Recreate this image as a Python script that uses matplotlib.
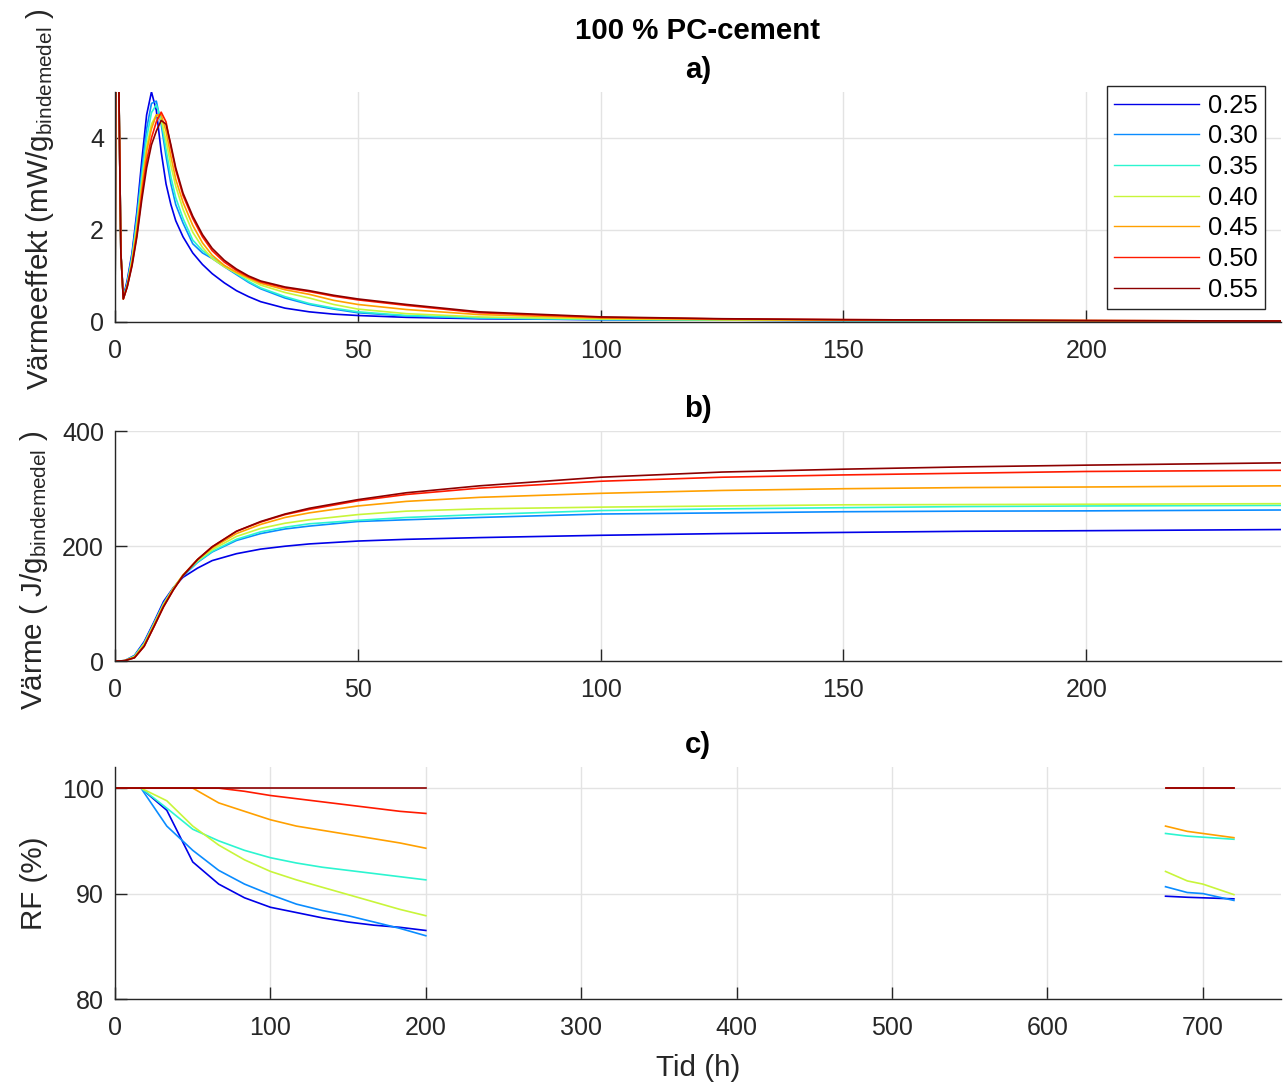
#############################################################################################
# 100 % PC-cement : heat flow, cumulative heat and RH for different w/b ratios
#############################################################################################

import numpy as np
import matplotlib.pyplot as plt

#############################################################################################
# DATA
#############################################################################################

wbLabels = ['0.25', '0.30', '0.35', '0.40', '0.45', '0.50', '0.55']
wbColors = ['#0000e8', '#0a8cff', '#2cf5d0', '#c8f53a', '#ffa000', '#ff1a00', '#8c0000']

# a) heat flow (mW/g binder) vs time (h)
timeA = [0, 0.3, 0.8, 1.2, 1.7, 2.5, 3.5, 4.5, 5.5, 6.5, 7.5, 8.5, 9.5, 10.5, 11.5, 12.5,
         14, 16, 18, 20, 22.5, 25, 27.5, 30, 35, 40, 45, 50, 60, 75, 100, 125, 150, 200, 240]
flow025 = [0, 12, 5, 1.5, 0.55, 0.9, 1.5, 2.4, 3.5, 4.5, 5.0, 4.6, 3.7, 3.0, 2.55, 2.2,
           1.85, 1.5, 1.25, 1.05, 0.85, 0.68, 0.55, 0.44, 0.3, 0.22, 0.17, 0.14, 0.1, 0.07, 0.05, 0.04, 0.03, 0.02, 0.015]
flow030 = [0, 12, 5, 1.5, 0.53, 0.85, 1.45, 2.3, 3.3, 4.2, 4.75, 4.8, 4.3, 3.6, 3.0, 2.55,
           2.15, 1.7, 1.5, 1.38, 1.2, 1.03, 0.86, 0.72, 0.52, 0.38, 0.28, 0.2, 0.13, 0.08, 0.05, 0.04, 0.03, 0.02, 0.015]
flow035 = [0, 12, 5, 1.5, 0.52, 0.82, 1.4, 2.2, 3.15, 4.0, 4.55, 4.72, 4.4, 3.75, 3.15, 2.7,
           2.25, 1.78, 1.55, 1.4, 1.22, 1.05, 0.88, 0.74, 0.55, 0.4, 0.3, 0.22, 0.14, 0.09, 0.055, 0.04, 0.03, 0.02, 0.015]
flow040 = [0, 12, 5, 1.5, 0.5, 0.8, 1.35, 2.1, 3.0, 3.8, 4.3, 4.5, 4.4, 3.95, 3.4, 2.95,
           2.45, 1.95, 1.62, 1.38, 1.2, 1.06, 0.93, 0.8, 0.64, 0.52, 0.38, 0.28, 0.18, 0.11, 0.065, 0.045, 0.035, 0.025, 0.02]
flow045 = [0, 12, 5, 1.5, 0.5, 0.78, 1.3, 2.0, 2.9, 3.7, 4.2, 4.5, 4.5, 4.15, 3.6, 3.1,
           2.6, 2.1, 1.72, 1.45, 1.23, 1.08, 0.96, 0.84, 0.7, 0.6, 0.47, 0.38, 0.27, 0.16, 0.085, 0.055, 0.04, 0.03, 0.02]
flow050 = [0, 12, 5, 1.5, 0.5, 0.76, 1.25, 1.9, 2.75, 3.5, 4.0, 4.35, 4.56, 4.35, 3.8, 3.3,
           2.75, 2.25, 1.85, 1.55, 1.3, 1.12, 0.98, 0.87, 0.74, 0.66, 0.56, 0.48, 0.36, 0.2, 0.1, 0.065, 0.05, 0.03, 0.02]
flow055 = [0, 12, 5, 1.5, 0.5, 0.76, 1.22, 1.85, 2.65, 3.35, 3.85, 4.15, 4.38, 4.3, 3.85, 3.35,
           2.8, 2.3, 1.9, 1.6, 1.34, 1.15, 1.0, 0.89, 0.76, 0.68, 0.58, 0.5, 0.38, 0.22, 0.11, 0.07, 0.05, 0.03, 0.02]

# b) cumulative heat (J/g binder) vs time (h)
timeB = [0, 2, 4, 6, 8, 10, 12, 14, 17, 20, 25, 30, 35, 40, 50, 60, 75, 100, 125, 150, 175, 200, 240]
heat025 = [0, 1, 10, 34, 68, 104, 128, 146, 162, 175, 187, 195, 200, 204, 209, 212, 215, 219, 222, 224, 226, 227, 229]
heat030 = [0, 1, 9, 32, 66, 101, 127, 148, 172, 190, 210, 222, 230, 235, 243, 246, 250, 256, 258, 260, 261, 261.5, 263]
heat035 = [0, 1, 9, 31, 65, 100, 127, 149, 173, 191, 212, 225, 233, 239, 245, 250, 255, 262, 265, 267, 269, 270, 271]
heat040 = [0, 1, 8, 30, 64, 99, 127, 150, 175, 194, 217, 231, 240, 246, 255, 261, 265, 268, 270, 272, 272.5, 273, 274]
heat045 = [0, 1, 7, 28, 62, 97, 126, 150, 177, 197, 222, 238, 250, 258, 270, 278, 285, 292, 297, 300, 302, 303, 305]
heat050 = [0, 1, 6, 26, 60, 95, 124, 149, 177, 199, 226, 242, 255, 264, 279, 290, 301, 313, 320, 324, 327, 330, 332]
heat055 = [0, 1, 6, 26, 60, 95, 124, 149, 177, 199, 226, 243, 256, 266, 281, 293, 305, 320, 329, 334, 338, 341, 345]

# c) relative humidity (%) vs time (h), two measuring periods
timeC1 = [0, 16.7, 33.3, 50, 66.7, 83.3, 100, 116.7, 133.3, 150, 166.7, 183.3, 200]
rf1_025 = [100, 100, 97.9, 93.0, 90.9, 89.6, 88.7, 88.2, 87.7, 87.3, 87.0, 86.8, 86.5]
rf1_030 = [100, 100, 96.4, 94.1, 92.2, 90.9, 89.9, 89.0, 88.4, 87.9, 87.3, 86.7, 86.0]
rf1_035 = [100, 100, 98.1, 96.1, 95.0, 94.1, 93.4, 92.9, 92.5, 92.2, 91.9, 91.6, 91.3]
rf1_040 = [100, 100, 98.8, 96.4, 94.6, 93.2, 92.1, 91.3, 90.6, 89.9, 89.2, 88.5, 87.9]
rf1_045 = [100, 100, 100, 100, 98.6, 97.8, 97.0, 96.4, 96.0, 95.6, 95.2, 94.8, 94.3]
rf1_050 = [100, 100, 100, 100, 100, 99.7, 99.3, 99.0, 98.7, 98.4, 98.1, 97.8, 97.6]
rf1_055 = [100] * 13

timeC2 = [676, 690, 700, 720]
rf2_025 = [89.75, 89.65, 89.6, 89.5]
rf2_030 = [90.65, 90.1, 90.0, 89.35]
rf2_035 = [95.7, 95.45, 95.35, 95.15]
rf2_040 = [92.1, 91.2, 90.9, 89.9]
rf2_045 = [96.4, 95.9, 95.7, 95.3]
rf2_050 = [100, 100, 100, 100]
rf2_055 = [100, 100, 100, 100]

flows = [flow025, flow030, flow035, flow040, flow045, flow050, flow055]
heats = [heat025, heat030, heat035, heat040, heat045, heat050, heat055]
rfs1 = [rf1_025, rf1_030, rf1_035, rf1_040, rf1_045, rf1_050, rf1_055]
rfs2 = [rf2_025, rf2_030, rf2_035, rf2_040, rf2_045, rf2_050, rf2_055]

#############################################################################################
# STYLE
#############################################################################################

plt.rcParams['font.family'] = ['Liberation Sans', 'DejaVu Sans']
plt.rcParams['mathtext.fontset'] = 'custom'
plt.rcParams['mathtext.rm'] = 'Liberation Sans'
plt.rcParams['mathtext.it'] = 'Liberation Sans'
fsTick = 18
fsLabel = 21.3
fsTitle = 21.2
axColor = '#262626'
lw = 1.2

def style_axes(ax):
    for s in ['top', 'right']:
        ax.spines[s].set_visible(False)
    for s in ['left', 'bottom']:
        ax.spines[s].set_color(axColor)
        ax.spines[s].set_linewidth(1.0)
    ax.tick_params(direction='in', length=8.5, width=1.0, color=axColor,
                   labelsize=fsTick, labelcolor=axColor)
    ax.tick_params(axis='x', pad=12)
    ax.tick_params(axis='y', pad=8)
    ax.grid(True, color='#e3e3e3', linewidth=1.0)
    ax.set_axisbelow(True)

#############################################################################################
# FIGURE
#############################################################################################

fig = plt.figure(figsize=(12.84, 10.84), dpi=100)
axA = fig.add_axes([0.0896, 0.703, 0.9077, 0.2122])
axB = fig.add_axes([0.0896, 0.390, 0.9077, 0.2122])
axC = fig.add_axes([0.0896, 0.0784, 0.9077, 0.2140])

# a)
handles = []
for c in range(len(wbLabels)):
    h, = axA.plot(timeA, flows[c], color=wbColors[c], lw=lw, label=wbLabels[c])
    handles.append(h)
axA.set_xlim(0, 240)
axA.set_ylim(0, 5)
axA.set_xticks([0, 50, 100, 150, 200])
axA.set_yticks([0, 2, 4])
style_axes(axA)
axA.set_title('100 % PC-cement\na)', fontsize=fsTitle, fontweight='bold', pad=10, linespacing=1.5)
axA.set_ylabel(r'Värmeeffekt (mW/g$_{\mathrm{bindemedel}}$ )', fontsize=fsLabel, color=axColor)
axA.yaxis.set_label_coords(-0.0506, 0.535)
leg = axA.legend(handles=handles, loc='upper right', fontsize=18.4,
                 bbox_to_anchor=(1265 / 1284, 1 - 86 / 1084), bbox_transform=fig.transFigure,
                 borderaxespad=0, handlelength=3.3, handletextpad=0.35, labelspacing=0.26,
                 borderpad=0.3, fancybox=False, framealpha=1)
leg.get_frame().set_edgecolor(axColor)
leg.get_frame().set_linewidth(1.0)
for line in leg.get_lines():
    line.set_linewidth(1.0)

# b)
for c in range(len(wbLabels)):
    axB.plot(timeB, heats[c], color=wbColors[c], lw=lw)
axB.set_xlim(0, 240)
axB.set_ylim(0, 400)
axB.set_xticks([0, 50, 100, 150, 200])
axB.set_yticks([0, 200, 400])
style_axes(axB)
axB.set_title('b)', fontsize=fsTitle, fontweight='bold', pad=10)
axB.set_ylabel(r'Värme ( J/g$_{\mathrm{bindemedel}}$ )', fontsize=fsLabel, color=axColor)
axB.yaxis.set_label_coords(-0.056, 0.396)

# c)
for c in range(len(wbLabels)):
    axC.plot(timeC1, rfs1[c], color=wbColors[c], lw=lw)
    axC.plot(timeC2, rfs2[c], color=wbColors[c], lw=lw)
axC.set_xlim(0, 750)
axC.set_ylim(80, 102)
axC.set_xticks(np.arange(0, 701, 100))
axC.set_yticks([80, 90, 100])
style_axes(axC)
axC.set_title('c)', fontsize=fsTitle, fontweight='bold', pad=10)
axC.set_ylabel('RF (%)', fontsize=fsLabel, color=axColor)
axC.yaxis.set_label_coords(-0.0575, 0.5)
axC.set_xlabel('Tid (h)', fontsize=fsLabel, color=axColor, labelpad=10)

plt.savefig('out.png', dpi=100)
